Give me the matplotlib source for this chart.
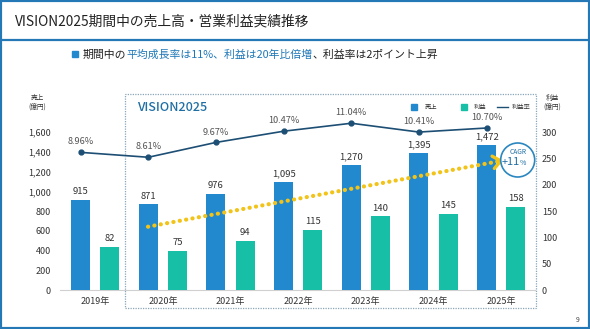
import matplotlib
matplotlib.use("Agg")
import matplotlib.pyplot as plt
from matplotlib.patches import Rectangle, Ellipse
from matplotlib.lines import Line2D

plt.rcParams['font.family'] = ['Noto Sans CJK JP', 'DejaVu Sans']

# データ
years = ['2019年', '2020年', '2021年', '2022年', '2023年', '2024年', '2025年']
sales = [915, 871, 976, 1095, 1270, 1395, 1472]      # 売上（億円）
profit = [82, 75, 94, 115, 140, 145, 158]            # 利益（億円）
margin = [8.96, 8.61, 9.67, 10.47, 11.04, 10.41, 10.70]  # 利益率（%）
sales_ticks = [0, 200, 400, 600, 800, 1000, 1200, 1400, 1600]
profit_ticks = [0, 50, 100, 150, 200, 250, 300]
# CAGR矢印の始点・終点（売上軸）
trend_x = [0.78, 5.98]
trend_y = [642, 1308]

c_sales = '#2389cf'
c_profit = '#17bfa6'
c_line = '#1d4e74'
c_blue = '#1f6fa5'
c_frame = '#2478b5'
c_text = '#333333'
c_yellow = '#f2c318'

W, H = 590, 329
fig = plt.figure(figsize=(W / 100, H / 100), dpi=100)
fig.patch.set_facecolor('white')

def fx(px):
    return px / W

def fy(py):
    return 1 - py / H

ax = fig.add_axes([fx(60), fy(290), fx(535) - fx(60), fy(112.6) - fy(290)])
x = list(range(len(years)))
off = 0.215
bw = 0.28

ax.bar([i - off for i in x], sales, width=bw, color=c_sales, zorder=3)
ax.set_xlim(-0.52, 6.5)
ax.set_ylim(0, 1800)
ax.set_yticks(sales_ticks)
ax.set_yticklabels([f'{v:,}' for v in sales_ticks])
ax.set_xticks(x)
ax.set_xticklabels(years)
ax.tick_params(axis='both', length=0, labelsize=6.5, colors=c_text)
ax.tick_params(axis='y', pad=6.5)
ax.tick_params(axis='x', pad=5)
for s in ['top', 'right', 'left']:
    ax.spines[s].set_visible(False)
ax.spines['bottom'].set_color('#d0d0d0')
ax.spines['bottom'].set_linewidth(0.8)
ax.patch.set_alpha(0)

for i, v in enumerate(sales):
    ax.annotate(f'{v:,}', (i - off, v), xytext=(0, 2.5), textcoords='offset points',
                ha='center', va='bottom', fontsize=6.8, color=c_text)

# 利益（右軸）
ax2 = ax.twinx()
ax2.bar([i + off for i in x], profit, width=bw, color=c_profit, zorder=3)
ax2.set_ylim(0, 1800 * 300 / 1600)
ax2.set_yticks(profit_ticks)
ax2.tick_params(axis='y', length=0, labelsize=6.5, colors=c_text, pad=5)
for s in ['top', 'right', 'left', 'bottom']:
    ax2.spines[s].set_visible(False)
for i, v in enumerate(profit):
    ax2.annotate(f'{v}', (i + off, v), xytext=(0, 2.5), textcoords='offset points',
                 ha='center', va='bottom', fontsize=6.8, color=c_text)

# 利益率の折れ線
ax3 = ax.twinx()
ax3.set_ylim(-0.87, 11.8)
ax3.axis('off')
ax3.plot([i - off for i in x], margin, color=c_line, lw=1.2, marker='o', ms=3.5, zorder=4)
for i, v in enumerate(margin):
    ax3.annotate(f'{v:.2f}%', (i - off, v), xytext=(0, 7.5), textcoords='offset points',
                 ha='center', va='center', fontsize=6.6, color='#555555')

# CAGRの点線矢印
ax.plot(trend_x, trend_y, color=c_yellow, lw=3, linestyle=(0, (0.05, 1.5)),
        dash_capstyle='round', zorder=5)
dx = (trend_x[1] - trend_x[0]) * 0.01
dy = (trend_y[1] - trend_y[0]) * 0.01
ax.annotate('', xy=(trend_x[1] + dx, trend_y[1] + dy), xytext=(trend_x[1], trend_y[1]),
            arrowprops=dict(arrowstyle='->,head_length=0.55,head_width=0.45',
                            color=c_yellow, lw=2.4), zorder=5)

# 軸タイトル
fig.text(fx(37), fy(102), '売上\n(億円)', fontsize=4.8, color=c_text, ha='center', va='center',
         linespacing=1.1)
fig.text(fx(552), fy(102), '利益\n(億円)', fontsize=4.8, color=c_text, ha='center', va='center',
         linespacing=1.1)

# VISION2025 枠
fig.add_artist(Rectangle((fx(125.3), fy(308)), fx(535.7) - fx(125.3), fy(94.3) - fy(308),
                         transform=fig.transFigure, fill=False, ec='#8aa6bb', lw=0.9,
                         linestyle=(0, (1, 1))))
fig.text(fx(137.5), fy(108), 'VISION2025', fontsize=9, color=c_blue, ha='left', va='center',
         fontweight='medium')

# 凡例
ly = 107.3
fig.add_artist(Rectangle((fx(411), fy(ly + 3.2)), fx(6.4), fy(ly - 3.2) - fy(ly + 3.2),
                         transform=fig.transFigure, color=c_sales))
fig.text(fx(425), fy(ly), '売上', fontsize=4.5, color=c_text, ha='left', va='center')
fig.add_artist(Rectangle((fx(460.5), fy(ly + 3.2)), fx(6.4), fy(ly - 3.2) - fy(ly + 3.2),
                         transform=fig.transFigure, color=c_profit))
fig.text(fx(474), fy(ly), '利益', fontsize=4.5, color=c_text, ha='left', va='center')
fig.add_artist(Line2D([fx(496.7), fx(508.3)], [fy(ly), fy(ly)], transform=fig.transFigure,
                      color=c_line, lw=1))
fig.text(fx(511.5), fy(ly), '利益率', fontsize=4.5, color=c_text, ha='left', va='center')

# CAGR 円
fig.add_artist(Ellipse((fx(517.7), fy(160)), 34 / W, 34 / H, transform=fig.transFigure,
                       fc='white', ec='#2a87c0', lw=1.2, zorder=6))
fig.text(fx(517.7), fy(151.5), 'CAGR', fontsize=4.8, color=c_blue, ha='center', va='center',
         zorder=7)
fig.text(fx(519.5), fy(162), '+11', fontsize=8, color=c_blue, ha='right', va='center', zorder=7)
fig.text(fx(520), fy(163), '%', fontsize=5, color=c_blue, ha='left', va='center', zorder=7)

# タイトル・枠線
fig.text(fx(15), fy(21.5), 'VISION2025期間中の売上高・営業利益実績推移', fontsize=9.9,
         color='#222222', ha='left', va='center')
fig.add_artist(Line2D([0, 1], [fy(40.3), fy(40.3)], transform=fig.transFigure,
                      color=c_frame, lw=1.6))
fig.add_artist(Rectangle((0, 0), 1, 1, transform=fig.transFigure, fill=False,
                         ec=c_frame, lw=3))

# サブタイトル（色分け）
fig.add_artist(Rectangle((fx(71.7), fy(57.3)), fx(6.6), fy(50.7) - fy(57.3),
                         transform=fig.transFigure, color=c_sales))
parts = [('期間中の', '#222222'), ('平均成長率は11%、利益は20年比倍増', '#1f78b8'),
         ('、利益率は2ポイント上昇', '#222222')]
renderer = fig.canvas.get_renderer()
xpos = 82.7
for txt, col in parts:
    t = fig.text(fx(xpos), fy(55), txt, fontsize=7.8, color=col, ha='left', va='center')
    xpos += t.get_window_extent(renderer).width

fig.text(fx(577.7), fy(320), '9', fontsize=5, color='#444444', ha='center', va='center')

fig.savefig('out.png', dpi=100)
